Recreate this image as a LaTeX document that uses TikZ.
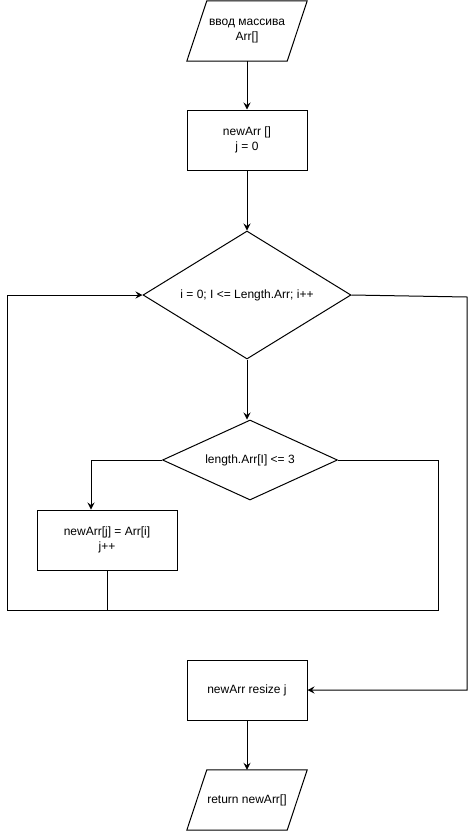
\documentclass[tikz,border=0pt]{standalone}
\usepackage{fontspec}
\setmainfont{Liberation Sans}
\usetikzlibrary{shapes.geometric,arrows.meta,calc}
\begin{document}
\begin{tikzpicture}[x=1pt,y=-1pt,
  every node/.style={font=\fontsize{12}{14.5}\selectfont, align=center, inner sep=0pt},
  box/.style={draw, line width=1pt, minimum width=120pt, minimum height=60pt},
  iobox/.style={minimum width=120pt, minimum height=60pt},
  dia/.style={draw, line width=1pt, diamond},
  ln/.style={line width=1pt},
  arr/.style={line width=1pt, -{Stealth[length=7pt,width=7pt,inset=2.5pt]}}]
\useasboundingbox (0,0) rectangle (476,831);
% input
\node[iobox] (in) at (247,31) {ввод массива\\Arr[]};
\draw[ln] ($(in.north west)+(20,0)$) -- (in.north east) -- ($(in.south east)-(20,0)$) -- (in.south west) -- cycle;
\node[box] (b1) at (247,140) {newArr []\\j = 0};
\node[dia, aspect=1.625, minimum width=208pt, minimum height=128pt] (d1) at (247,295) {i = 0; I <= Length.Arr; i++};
\node[dia, aspect=2.19, minimum width=175pt, minimum height=80pt] (d2) at (250,460) {length.Arr[I] <= 3};
\node[box, minimum width=140pt] (b2) at (107,540) {newArr[j] = Arr[i]\\j++};
\node[box] (b3) at (247,690) {newArr resize j};
\node[iobox] (out) at (247,800) {return newArr[]};
\draw[ln] ($(out.north west)+(20,0)$) -- (out.north east) -- ($(out.south east)-(20,0)$) -- (out.south west) -- cycle;
% coordinates
\coordinate (bl) at (7,610);
\coordinate (br) at (438,610);
\coordinate (rt) at (467,297);
% connectors
\draw[arr] (in.south) -- (b1.north);
\draw[arr] (b1.south) -- (d1.north);
\draw[arr] (d1.south) -- (d1.south |- d2.north);
\draw[arr] (d2.west) -| ($(b2.north)+(-16,0)$);
\draw[ln] (b2.south) -- (b2.south |- bl);
\draw[arr] (d2.east) -| (br) -- (bl) |- (d1.west);
\draw[arr] (d1.east) -- (rt) |- (b3.east);
\draw[arr] (b3.south) -- (out.north);
\end{tikzpicture}
\end{document}
